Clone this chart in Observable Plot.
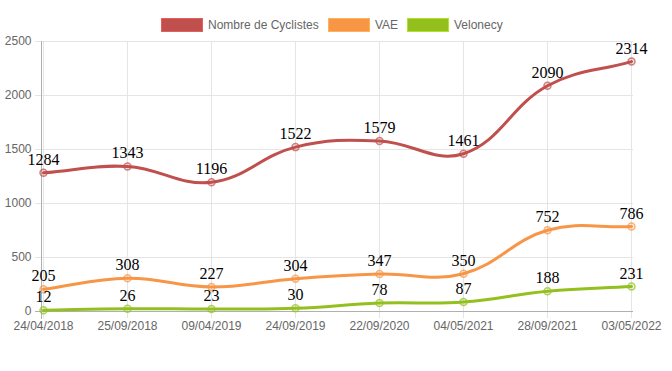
<!DOCTYPE html>
<html><head><meta charset="utf-8">
<script src="https://cdn.jsdelivr.net/npm/d3@7"></script>
<script src="https://cdn.jsdelivr.net/npm/@observablehq/plot@0.6"></script>
<style>
body{margin:0;background:#fff;font-family:"Liberation Sans",Arial,sans-serif;}
#wrap{position:relative;width:672px;}
#legend{height:30px;position:relative;}
.item{position:absolute;top:18px;display:flex;align-items:center;font-size:12px;color:#666;}
.box{width:40px;height:12px;border:1px solid;margin-right:5px;}
.vlabel text{font-family:"Liberation Serif","Times New Roman",serif !important;}
</style>
</head><body>
<div id="wrap"><div id="legend"></div><div id="chart"></div></div>
<script>
const dates = ["24/04/2018","25/09/2018","09/04/2019","24/09/2019","22/09/2020","04/05/2021","28/09/2021","03/05/2022"];
const cyclistes = [1284,1343,1196,1522,1579,1461,2090,2314];
const vae = [205,308,227,304,347,350,752,786];
const velonecy = [12,26,23,30,78,87,188,231];
const seriesNames = ["Nombre de Cyclistes","VAE","Velonecy"];
const seriesColors = ["#c0504d","#f79646","#93c01f"];
const yTicks = [0,500,1000,1500,2000,2500];

const seriesValues = [cyclistes, vae, velonecy];
const rows = [];
seriesValues.forEach((vals, s) => vals.forEach((v, i) => rows.push({date: dates[i], value: v, series: seriesNames[s]})));

// Chart.js-like spline (tension 0.4)
function chartjsCurve(context) {
  let pts = [];
  const t = 0.4;
  return {
    areaStart(){}, areaEnd(){},
    lineStart(){ pts = []; },
    point(x, y){ pts.push([+x, +y]); },
    lineEnd(){
      const n = pts.length;
      if (!n) return;
      const cps = pts.map((cur, i) => {
        const prev = pts[i-1] || cur, next = pts[i+1] || cur;
        const d01 = Math.hypot(cur[0]-prev[0], cur[1]-prev[1]);
        const d12 = Math.hypot(next[0]-cur[0], next[1]-cur[1]);
        let s01 = d01/(d01+d12), s12 = d12/(d01+d12);
        if (!isFinite(s01)) s01 = 0; if (!isFinite(s12)) s12 = 0;
        const fa = t*s01, fb = t*s12;
        return {
          p: [cur[0] - fa*(next[0]-prev[0]), cur[1] - fa*(next[1]-prev[1])],
          n: [cur[0] + fb*(next[0]-prev[0]), cur[1] + fb*(next[1]-prev[1])]
        };
      });
      context.moveTo(pts[0][0], pts[0][1]);
      for (let i = 1; i < n; i++) {
        context.bezierCurveTo(cps[i-1].n[0], cps[i-1].n[1], cps[i].p[0], cps[i].p[1], pts[i][0], pts[i][1]);
      }
    }
  };
}

// legend
const legend = document.getElementById("legend");
const lefts = [161, 328, 407];
seriesNames.forEach((name, i) => {
  const it = document.createElement("div");
  it.className = "item";
  it.style.left = lefts[i] + "px";
  const b = document.createElement("div");
  b.className = "box";
  b.style.background = seriesColors[i];
  b.style.borderColor = d3.color(seriesColors[i]).brighter(0.5).formatHex();
  const s = document.createElement("span");
  s.textContent = name;
  it.append(b, s);
  legend.append(it);
});

const chart = Plot.plot({
  width: 672,
  height: 341,
  marginTop: 11,
  marginBottom: 60,
  marginLeft: 41,
  marginRight: 39,
  style: {fontFamily: "'Liberation Sans', Arial, sans-serif", fontSize: "12px", color: "#666", background: "#fff"},
  x: {type: "point", domain: dates, padding: 0, label: null},
  y: {domain: [0, 2500], label: null},
  color: {domain: seriesNames, range: seriesColors},
  marks: [
    Plot.ruleY(yTicks.slice(1), {stroke: "#e5e5e5", strokeOpacity: 1, insetLeft: -6}),
    Plot.ruleX(dates, {stroke: "#e5e5e5", strokeOpacity: 1, insetBottom: -7}),
    Plot.ruleY([0], {stroke: "#b0b0b0", strokeOpacity: 1, insetLeft: -6}),
    Plot.frame({anchor: "left", stroke: "#b0b0b0", strokeOpacity: 1, insetBottom: -7}),
    Plot.axisY({ticks: yTicks, tickSize: 0, tickPadding: 10, fill: "#666", fontSize: 12, tickFormat: d => String(d)}),
    Plot.axisX({tickSize: 0, tickPadding: 10, fill: "#666", fontSize: 12}),
    Plot.line(rows, {x: "date", y: "value", z: "series", stroke: "series", strokeWidth: 3, curve: chartjsCurve}),
    Plot.dot(rows, {x: "date", y: "value", stroke: "series", fill: "series", fillOpacity: 0.15, strokeOpacity: 0.7, strokeWidth: 1.5, r: 3.5}),
    Plot.text(rows, {x: "date", y: "value", text: d => String(d.value), fill: "black", fontFamily: "Liberation Serif", fontSize: 16, lineAnchor: "bottom", dy: -8, className: "vlabel"})
  ]
});
document.getElementById("chart").append(chart);
</script>
</body></html>
